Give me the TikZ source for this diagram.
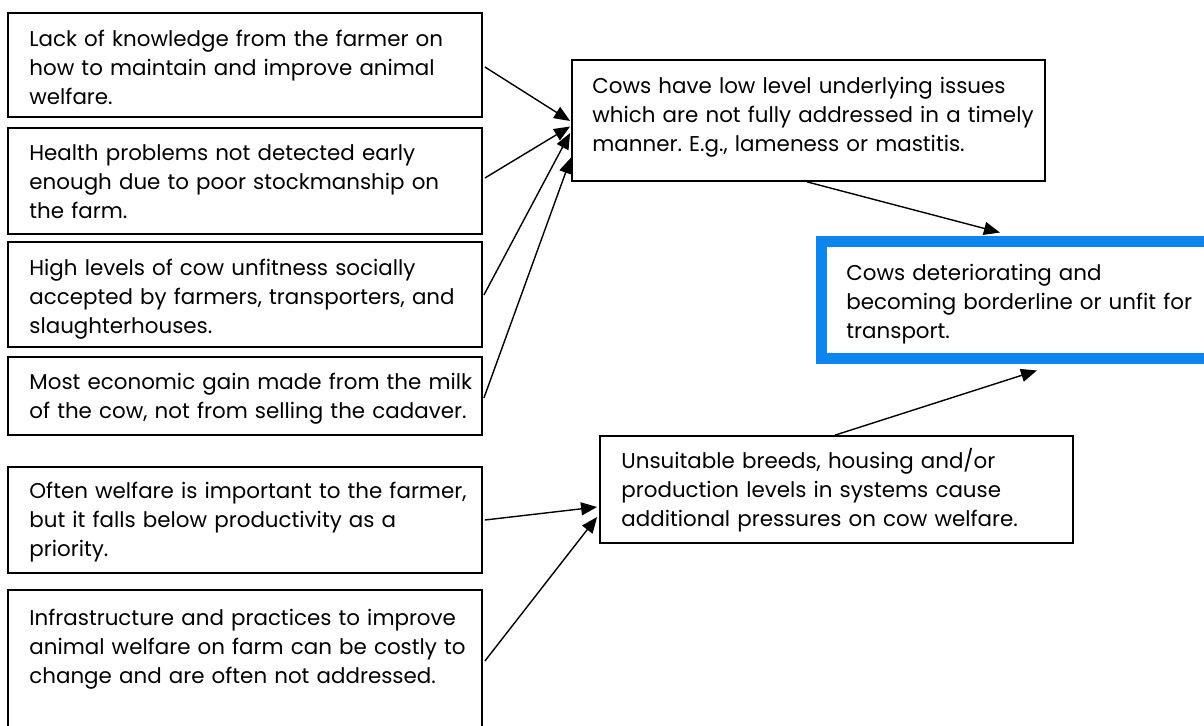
\documentclass[tikz,border=0pt]{standalone}
\usepackage{fontspec}
\setmainfont{Poppins}
\usetikzlibrary{fit,calc,arrows.meta}
\definecolor{hiblue}{RGB}{12,133,238}
\tikzset{
  box/.style={draw=black, line width=0.9pt, inner sep=0pt, rectangle},
  keybox/.style={draw=hiblue, line width=5.65pt, inner sep=0pt, rectangle},
  txt/.style={anchor=north west, inner sep=0pt, text width=240pt, align=left,
    font=\fontsize{10.7}{14.5}\selectfont\frenchspacing},
  conn/.style={draw=black, line width=0.7pt, -{Triangle[length=8pt,width=6.5pt]}}
}
\begin{document}
\begin{tikzpicture}[x=0.5pt,y=-0.5pt]
\useasboundingbox (0,0) rectangle (1204,726);
\clip (0,0) rectangle (1204,726);
% boxes
\node[box, fit={(8,13) (482,117)}] (A) {};
\node[box, fit={(8,128) (482,234)}] (B) {};
\node[box, fit={(8,242) (482,347)}] (C) {};
\node[box, fit={(8,357) (482,435)}] (D) {};
\node[box, fit={(8,467) (482,573)}] (E) {};
\node[box, fit={(8,590) (482,760)}] (F) {};
\node[box, fit={(572,60) (1045,181)}] (G) {};
\node[box, fit={(600,436) (1073,543)}] (I) {};
\node[keybox, fit={(821.6,241.7) (1235,358.8)}] (H) {};
% texts
\node[txt] (At) at (29,25.7) {\strut Lack of knowledge from the farmer on\\how to maintain and improve animal\\welfare.};
\node[txt] (Bt) at (29,139.7) {\strut Health problems not detected early\\enough due to poor stockmanship on\\the farm.};
\node[txt] (Ct) at (29,254.7) {\strut High levels of cow unfitness socially\\accepted by farmers, transporters, and\\slaughterhouses.};
\node[txt] (Dt) at (29,368.7) {\strut Most economic gain made from the milk\\of the cow, not from selling the cadaver.};
\node[txt] (Et) at (29,477.7) {\strut Often welfare is important to the farmer,\\but it falls below productivity as a\\priority.};
\node[txt] (Ft) at (29,604.7) {\strut Infrastructure and practices to improve\\animal welfare on farm can be costly to\\change and are often not addressed.};
\node[txt] (Gt) at (592,72.7) {\strut Cows have low level underlying issues\\which are not fully addressed in a timely\\manner. E.g., lameness or mastitis.};
\node[txt] (It) at (621,447.7) {\strut Unsuitable breeds, housing and/or\\production levels in systems cause\\additional pressures on cow welfare.};
\node[txt] (Ht) at (846,259.7) {\strut Cows deteriorating and\\becoming borderline or unfit for\\transport.};
% connectors
\draw[conn] ($(A.east)+(2,2)$) -- ($(G.west)+(-1,0.5)$);
\draw[conn] ($(B.east)+(2,-3)$) -- ($(G.west)+(-1,6)$);
\draw[conn] ($(C.east)+(1,0.5)$) -- ($(G.west)+(-1,12.5)$);
\draw[conn] ($(D.east)+(1,2)$) -- ($(G.west)+(0,37)$);
\draw[conn] ($(G.south west)+(236,0)$) -- ($(H.north west)+(184,-3.5)$);
\draw[conn] ($(I.north west)+(236,0)$) -- ($(H.south west)+(221,6)$);
\draw[conn] ($(E.east)+(2,0)$) -- ($(I.west)+(-2,17.5)$);
\draw[conn] ($(F.east)+(2,-14)$) -- ($(I.west)+(-2,27.5)$);
\end{tikzpicture}
\end{document}
